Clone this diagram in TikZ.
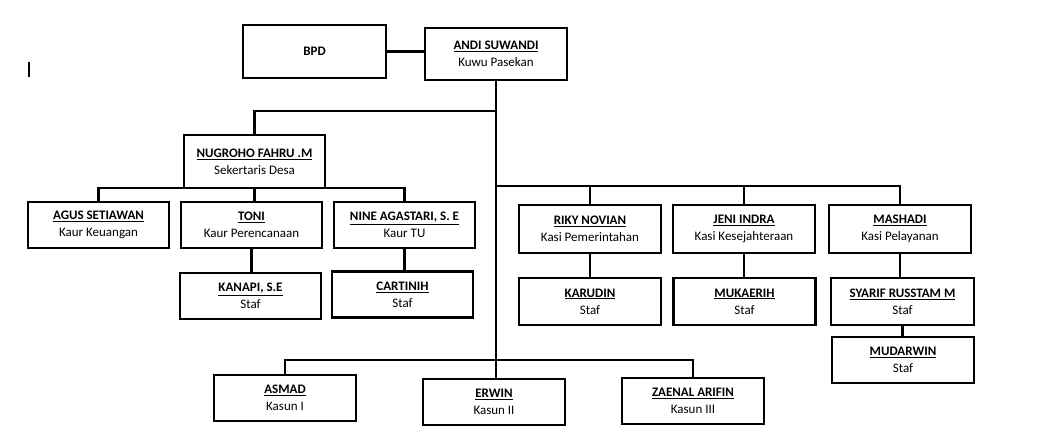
\documentclass[tikz,border=0pt]{standalone}
\usepackage{fontspec}
\setmainfont{Carlito}
\begin{document}
\begin{tikzpicture}[x=1pt,y=-1pt,
    unit/.style={draw,line width=2.4pt,minimum width=142pt,minimum height=46pt,
      inner sep=0pt,align=center,font=\fontsize{13}{17}\selectfont},
    tall/.style={unit,minimum height=53pt},
    link/.style={line width=2.1pt}]
    \useasboundingbox (0,0) rectangle (1047,442);
    \draw[line width=1.2pt] (29,62) -- (29,77);
    \node[tall,minimum width=143pt] (bpd) at (314.5,51.5) {\textbf{BPD}};
    \node[tall,minimum height=52pt] (andi) at (496,54) {\underline{\textbf{ANDI SUWANDI}}\\Kuwu Pasekan};
    \node[tall,minimum width=141pt] (nugroho) at (254.5,161.5) {\underline{\textbf{NUGROHO FAHRU .M}}\\Sekertaris Desa};
    \node[unit,minimum width=141pt] (agus) at (98.5,225) {\underline{\textbf{AGUS SETIAWAN}}\\Kaur Keuangan};
    \node[unit,minimum width=141pt] (toni) at (251.5,225) {\underline{\textbf{TONI}}\\Kaur Perencanaan};
    \node[unit,minimum width=141pt] (nine) at (404.5,225) {\underline{\textbf{NINE AGASTARI, S. E}}\\Kaur TU};
    \node[unit,minimum width=141pt] (kanapi) at (250.5,296) {\underline{\textbf{KANAPI, S.E}}\\Staf};
    \node[unit,minimum width=141pt] (cartinih) at (402.5,294.5) {\underline{\textbf{CARTINIH}}\\Staf};
    \node[unit,minimum height=48pt] (riky) at (590,229) {\underline{\textbf{RIKY NOVIAN}}\\Kasi Pemerintahan};
    \node[unit,minimum height=48pt] (jeni) at (744,229) {\underline{\textbf{JENI INDRA}}\\Kasi Kesejahteraan};
    \node[unit,minimum height=48pt] (mashadi) at (900,229) {\underline{\textbf{MASHADI}}\\Kasi Pelayanan};
    \node[unit,minimum height=47pt] (karudin) at (590,301.5) {\underline{\textbf{KARUDIN}}\\Staf};
    \node[unit,minimum height=47pt] (mukaerih) at (744.5,301.5) {\underline{\textbf{MUKAERIH}}\\Staf};
    \node[unit,minimum height=47pt,minimum width=143pt] (syarif) at (902.5,301.5) {\underline{\textbf{SYARIF RUSSTAM M}}\\Staf};
    \node[unit] (mudarwin) at (903,360) {\underline{\textbf{MUDARWIN}}\\Staf};
    \node[unit] (asmad) at (285,398) {\underline{\textbf{ASMAD}}\\Kasun I};
    \node[unit] (erwin) at (494,402) {\underline{\textbf{ERWIN}}\\Kasun II};
    \node[unit] (zaenal) at (693,401) {\underline{\textbf{ZAENAL ARIFIN}}\\Kasun III};
    \coordinate (busA) at (0,111);
    \coordinate (busL) at (0,188);
    \coordinate (busR) at (0,186);
    \coordinate (busK) at (0,360);
    \draw[link] (bpd) -- (bpd -| andi.west);
    \draw[link] (andi.south) -- (andi.south |- erwin.north);
    \draw[link] (nugroho.north) -- (nugroho.north |- busA) -| (andi.south);
    \draw[link] (nugroho.south) -- (nugroho.south |- toni.north);
    \draw[link] (agus.north) -- (agus.north |- busL) -| (nine.north);
    \draw[link] (andi.south |- busR) -| (mashadi.north);
    \foreach \n in {riky,jeni}
    \draw[link] (\n.north) -- (\n.north |- busR);
    \draw[link] (asmad.north) -- (asmad.north |- busK) -| (zaenal.north);
    \foreach \a/\b in {toni/kanapi,nine/cartinih,riky/karudin,jeni/mukaerih,mashadi/syarif,syarif/mudarwin}
    \draw[link] (\a.south) -- (\a.south |- \b.north);
  \end{tikzpicture}
\end{document}
